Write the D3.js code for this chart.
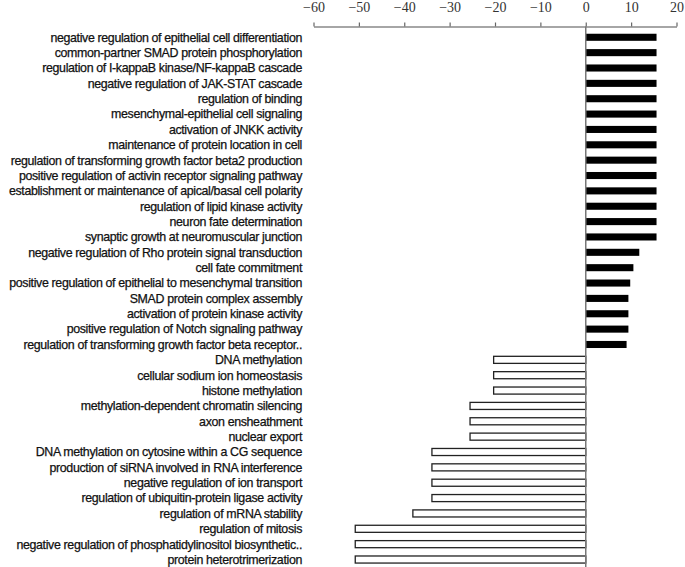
<!DOCTYPE html>
<html>
<head>
<meta charset="utf-8">
<script src="https://cdn.jsdelivr.net/npm/d3@7"></script>
<style>
  body { margin: 0; background: #fff; }
  svg { display: block; }
</style>
</head>
<body>
<div id="chart"></div>
<script>
// GO terms, top to bottom
const categories = [
    'negative regulation of epithelial cell differentiation',
    'common-partner SMAD protein phosphorylation',
    'regulation of I-kappaB kinase/NF-kappaB cascade',
    'negative regulation of JAK-STAT cascade',
    'regulation of binding',
    'mesenchymal-epithelial cell signaling',
    'activation of JNKK activity',
    'maintenance of protein location in cell',
    'regulation of transforming growth factor beta2 production',
    'positive regulation of activin receptor signaling pathway',
    'establishment or maintenance of apical/basal cell polarity',
    'regulation of lipid kinase activity',
    'neuron fate determination',
    'synaptic growth at neuromuscular junction',
    'negative regulation of Rho protein signal transduction',
    'cell fate commitment',
    'positive regulation of epithelial to mesenchymal transition',
    'SMAD protein complex assembly',
    'activation of protein kinase activity',
    'positive regulation of Notch signaling pathway',
    'regulation of transforming growth factor beta receptor..',
    'DNA methylation',
    'cellular sodium ion homeostasis',
    'histone methylation',
    'methylation-dependent chromatin silencing',
    'axon ensheathment',
    'nuclear export',
    'DNA methylation on cytosine within a CG sequence',
    'production of siRNA involved in RNA interference',
    'negative regulation of ion transport',
    'regulation of ubiquitin-protein ligase activity',
    'regulation of mRNA stability',
    'regulation of mitosis',
    'negative regulation of phosphatidylinositol biosynthetic..',
    'protein heterotrimerization'
];

const values = [
    15.6, 15.6, 15.6, 15.6, 15.6, 15.6, 15.6, 15.6, 15.6, 15.6,
    15.6, 15.6, 15.6, 15.6, 11.8, 10.5, 9.8, 9.4, 9.4, 9.4, 9.0,
    -20.3, -20.3, -20.3, -25.5, -25.5, -25.5,
    -33.9, -33.9, -33.9, -33.9, -38.1, -50.8, -50.8, -50.8
];

const xTicks = [-60, -50, -40, -30, -20, -10, 0, 10, 20];

const width = 685, height = 567;

const svg = d3.select('#chart')
    .append('svg')
    .attr('width', width)
    .attr('height', height);

const x = d3.scaleLinear().domain([-60, 20]).range([313.5, 676.5]);

const y = d3.scaleBand().domain(categories)
    .range([29.6, 29.6 + 35 * 15.36])
    .paddingInner(0.54)
    .paddingOuter(0.27);

// top axis
const axisY = 26.5;
const xAxis = svg.append('g')
    .attr('transform', `translate(0,${axisY})`)
    .call(d3.axisTop(x).tickValues(xTicks).tickSize(4).tickSizeOuter(0).tickPadding(10.5));
xAxis.select('.domain').attr('stroke', '#888').attr('stroke-width', 1.5);
xAxis.selectAll('.tick line').attr('stroke', '#666').attr('stroke-width', 1.2);
xAxis.selectAll('.tick text')
    .attr('fill', '#333')
    .attr('font-family', '"Liberation Serif", "DejaVu Serif", serif')
    .attr('font-size', 14);

// bars
svg.append('g')
    .selectAll('rect')
    .data(categories)
    .join('rect')
    .attr('x', (d, i) => x(Math.min(0, values[i])))
    .attr('y', d => y(d))
    .attr('width', (d, i) => Math.abs(x(values[i]) - x(0)))
    .attr('height', y.bandwidth())
    .attr('fill', (d, i) => values[i] > 0 ? '#000' : '#fff')
    .attr('stroke', (d, i) => values[i] > 0 ? 'none' : '#222')
    .attr('stroke-width', 1.3);

// zero line
svg.append('line')
    .attr('x1', x(0)).attr('x2', x(0))
    .attr('y1', axisY).attr('y2', height)
    .attr('stroke', '#777')
    .attr('stroke-width', 1.5);

// category labels
svg.append('g')
    .selectAll('text')
    .data(categories)
    .join('text')
    .attr('x', 302)
    .attr('y', d => y(d) + y.bandwidth() / 2)
    .attr('dy', '0.35em')
    .attr('text-anchor', 'end')
    .attr('font-family', '"Liberation Sans", Arial, sans-serif')
    .attr('font-size', 12.4)
    .attr('letter-spacing', -0.35)
    .attr('fill', '#111')
    .attr('stroke', '#111')
    .attr('stroke-width', 0.25)
    .text(d => d);
</script>
</body>
</html>
